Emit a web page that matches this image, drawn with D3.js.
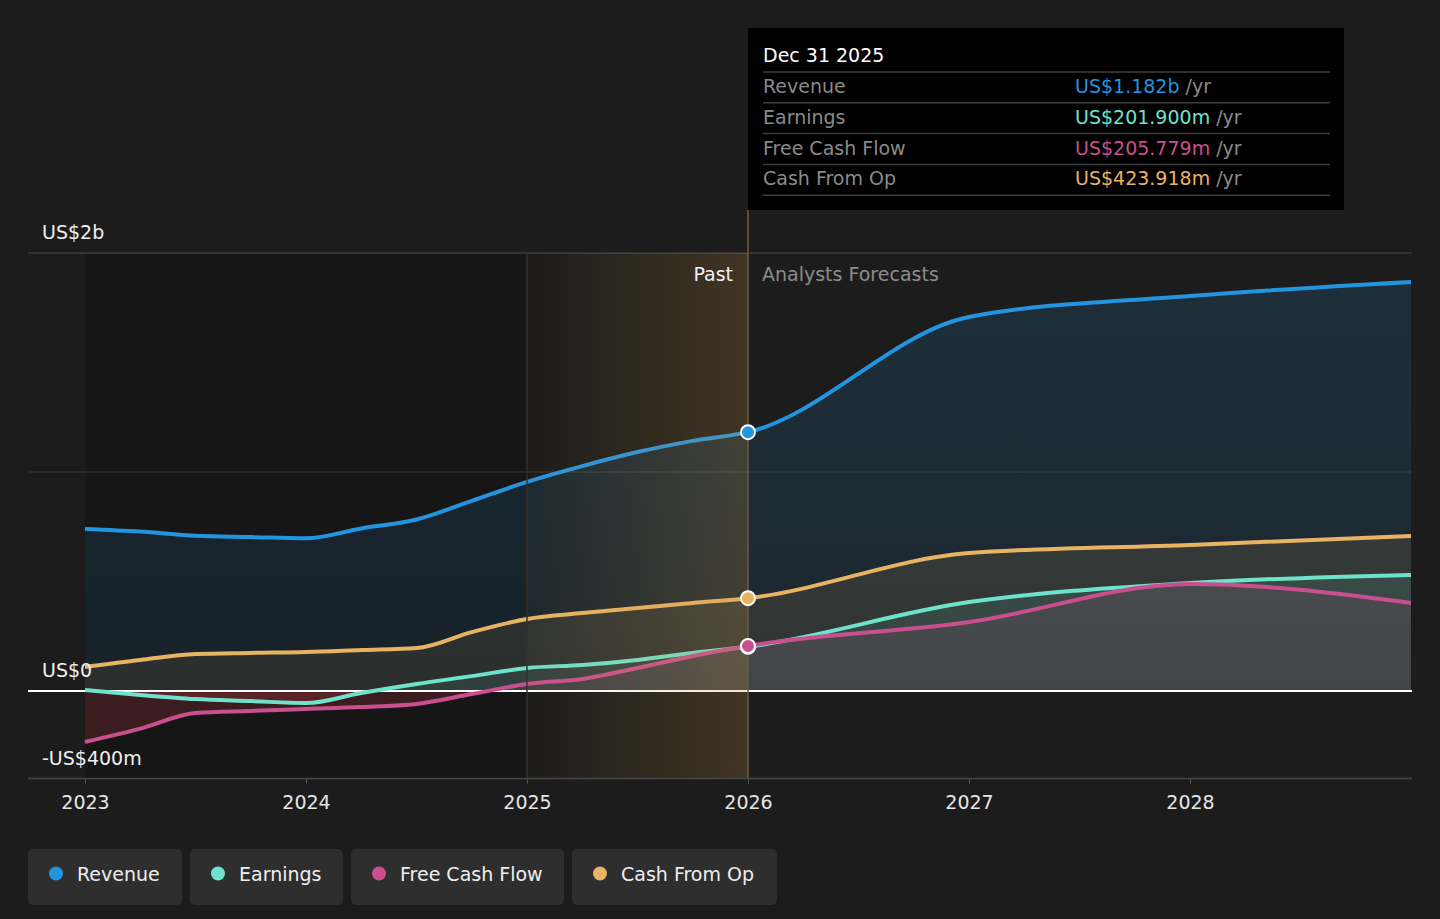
<!DOCTYPE html>
<html>
<head>
<meta charset="utf-8">
<script src="https://cdn.jsdelivr.net/npm/d3@7"></script>
<style>
  html, body { margin: 0; padding: 0; background: #1c1c1c; }
  svg { display: block; font-family: "DejaVu Sans", sans-serif; }
</style>
</head>
<body>
<svg width="1440" height="919"></svg>
<script>
// dates as fractional years: quarterly history, then yearly analyst forecasts
const dates = [2023, 2023.25, 2023.5, 2023.75, 2024, 2024.25, 2024.5, 2024.75,
  2025, 2025.25, 2025.5, 2025.75, 2026, 2027, 2028, 2029];

// values in US$ billions
const revenue = [0.740, 0.728, 0.709, 0.703, 0.697, 0.742, 0.783, 0.868,
  0.955, 1.027, 1.091, 1.142, 1.182, 1.708, 1.804, 1.868];
const earnings = [0.005, -0.018, -0.037, -0.046, -0.055, -0.009, 0.032, 0.068,
  0.105, 0.119, 0.142, 0.174, 0.2019, 0.406, 0.493, 0.530];
const freeCashFlow = [-0.233, -0.172, -0.100, -0.091, -0.082, -0.073, -0.059, -0.014,
  0.032, 0.055, 0.105, 0.160, 0.2058, 0.315, 0.489, 0.402];
const cashFromOp = [0.110, 0.142, 0.169, 0.174, 0.178, 0.187, 0.196, 0.269,
  0.329, 0.356, 0.379, 0.402, 0.4239, 0.630, 0.667, 0.708];

const yearTicks = [2023, 2024, 2025, 2026, 2027, 2028];
const yTicks = [-0.4, 0, 2];
const yTickLabels = ['-US$400m', 'US$0', 'US$2b'];
const gridValues = [2, 1];

const pastStart = 2023, bandStart = 2025, today = 2026;
const tooltipTitle = 'Dec 31 2025';

const series = [
  { name: 'Revenue', values: revenue, color: '#2394df', label: 'US$1.182b' },
  { name: 'Earnings', values: earnings, color: '#6fe2cb', label: 'US$201.900m' },
  { name: 'Free Cash Flow', values: freeCashFlow, color: '#c94f8f', label: 'US$205.779m' },
  { name: 'Cash From Op', values: cashFromOp, color: '#e8b362', label: 'US$423.918m' },
];
// draw order (bottom to top)
const drawOrder = [0, 3, 1, 2];

const svg = d3.select('svg');
const W = 1440;
const left = 28, right = 1412;

const x = d3.scaleLinear().domain([2023, 2029]).range([85, 1411]);
const y = d3.scaleLinear().domain([-0.4, 2]).range([778.6, 253]);

const defs = svg.append('defs');

svg.append('rect').attr('width', W).attr('height', 919).attr('fill', '#1c1c1c');

// past region darker
svg.append('rect')
  .attr('x', x(pastStart)).attr('y', y(2))
  .attr('width', x(bandStart) - x(pastStart)).attr('height', y(-0.4) - y(2))
  .attr('fill', '#161616');
svg.append('rect')
  .attr('x', x(bandStart)).attr('y', y(2))
  .attr('width', x(today) - x(bandStart)).attr('height', y(-0.4) - y(2))
  .attr('fill', '#181818');

// grid
svg.append('g').selectAll('line')
  .data(gridValues)
  .join('line')
  .attr('x1', left).attr('x2', right)
  .attr('y1', d => y(d)).attr('y2', d => y(d))
  .attr('stroke', d => d === 2 ? '#4c4c4c' : '#363636')
  .attr('stroke-width', 1.2);

// area gradients
series.forEach((s, i) => {
  const g = defs.append('linearGradient')
    .attr('id', 'grad' + i)
    .attr('gradientUnits', 'userSpaceOnUse')
    .attr('x1', 0).attr('x2', 0).attr('y1', y(2)).attr('y2', y(0));
  g.append('stop').attr('offset', 0).attr('stop-color', s.color).attr('stop-opacity', 0.16);
  g.append('stop').attr('offset', 1).attr('stop-color', s.color).attr('stop-opacity', 0.09);
});
defs.append('clipPath').attr('id', 'clipAbove')
  .append('rect').attr('x', 0).attr('y', 0).attr('width', W).attr('height', y(0));
defs.append('clipPath').attr('id', 'clipBelow')
  .append('rect').attr('x', 0).attr('y', y(0)).attr('width', W).attr('height', 919 - y(0));

const area = d3.area()
  .curve(d3.curveMonotoneX)
  .x((d, i) => x(dates[i]))
  .y0(y(0))
  .y1(d => y(d));

const line = d3.line()
  .curve(d3.curveMonotoneX)
  .x((d, i) => x(dates[i]))
  .y(d => y(d));

const areas = svg.append('g');
drawOrder.forEach(i => {
  const s = series[i];
  areas.append('path')
    .attr('d', area(s.values))
    .attr('fill', `url(#grad${i})`)
    .attr('clip-path', 'url(#clipAbove)');
  areas.append('path')
    .attr('d', area(s.values))
    .attr('fill', '#d23c4a')
    .attr('fill-opacity', 0.2)
    .attr('clip-path', 'url(#clipBelow)');
});

// zero line
svg.append('line')
  .attr('x1', left).attr('x2', right)
  .attr('y1', y(0)).attr('y2', y(0))
  .attr('stroke', '#ffffff').attr('stroke-width', 2);

const lines = svg.append('g');
drawOrder.forEach(i => {
  lines.append('path')
    .attr('d', line(series[i].values))
    .attr('fill', 'none')
    .attr('stroke', series[i].color)
    .attr('stroke-width', 4);
});

// highlight band for the last year of history
const bandGrad = defs.append('linearGradient').attr('id', 'band');
bandGrad.append('stop').attr('offset', 0).attr('stop-color', '#c8964b').attr('stop-opacity', 0.03);
bandGrad.append('stop').attr('offset', 1).attr('stop-color', '#c8964b').attr('stop-opacity', 0.23);
svg.append('rect')
  .attr('x', x(bandStart)).attr('y', y(2))
  .attr('width', x(today) - x(bandStart)).attr('height', y(-0.4) - y(2))
  .attr('fill', 'url(#band)');
svg.append('line')
  .attr('x1', x(bandStart)).attr('x2', x(bandStart))
  .attr('y1', y(2)).attr('y2', y(-0.4))
  .attr('stroke', '#34312c').attr('stroke-width', 1.5);
svg.append('line')
  .attr('x1', x(today)).attr('x2', x(today))
  .attr('y1', 210).attr('y2', y(-0.4))
  .attr('stroke', '#6e5b3c').attr('stroke-width', 1.5);

// bottom axis
const xAxis = svg.append('g').attr('transform', `translate(0,${y(-0.4)})`)
  .call(d3.axisBottom(x).tickValues(yearTicks).tickFormat(d3.format('d')).tickSize(5).tickPadding(12));
xAxis.select('.domain').remove();
svg.append('line')
  .attr('x1', left).attr('x2', right)
  .attr('y1', y(-0.4)).attr('y2', y(-0.4))
  .attr('stroke', '#474747').attr('stroke-width', 1.5);
xAxis.selectAll('.tick line').attr('stroke', '#555');
xAxis.selectAll('.tick text')
  .attr('fill', '#e6e6e6')
  .attr('font-size', 19)
  .attr('font-family', '"DejaVu Sans", sans-serif');

// y labels
svg.append('g').selectAll('text')
  .data(yTicks)
  .join('text')
  .attr('x', 42)
  .attr('y', d => y(d) - 14)
  .attr('fill', '#f0f0f0')
  .attr('font-size', 19)
  .text((d, i) => yTickLabels[i]);

// dots at today
const dots = svg.append('g');
[1, 0, 3, 2].forEach(i => {
  dots.append('circle')
    .attr('cx', x(today))
    .attr('cy', y(series[i].values[dates.indexOf(today)]))
    .attr('r', 7)
    .attr('fill', series[i].color)
    .attr('stroke', '#ffffff')
    .attr('stroke-width', 2);
});

svg.append('text')
  .attr('x', x(today) - 15).attr('y', 281)
  .attr('text-anchor', 'end')
  .attr('fill', '#f0f0f0').attr('font-size', 19)
  .text('Past');
svg.append('text')
  .attr('x', x(today) + 14).attr('y', 281)
  .attr('fill', '#8c8c8c').attr('font-size', 19)
  .text('Analysts Forecasts');

// tooltip
const tip = svg.append('g');
tip.append('rect')
  .attr('x', 748).attr('y', 28).attr('width', 596).attr('height', 182)
  .attr('fill', '#000');
tip.append('text')
  .attr('x', 763).attr('y', 62)
  .attr('fill', '#ffffff').attr('font-size', 19)
  .text(tooltipTitle);
const rowY = d3.scaleLinear().domain([0, 1]).range([72, 102.8]);
tip.selectAll('line.sep')
  .data(d3.range(series.length + 1))
  .join('line')
  .attr('class', 'sep')
  .attr('x1', 763).attr('x2', 1330)
  .attr('y1', d => rowY(d)).attr('y2', d => rowY(d))
  .attr('stroke', '#3e3e3e').attr('stroke-width', 1.5);
const rows = tip.selectAll('g.row')
  .data(series)
  .join('g')
  .attr('class', 'row')
  .attr('transform', (d, i) => `translate(0,${rowY(i) + 21})`);
rows.append('text')
  .attr('x', 763)
  .attr('fill', '#8a8a8a').attr('font-size', 19)
  .text(d => d.name);
const val = rows.append('text')
  .attr('x', 1075)
  .attr('font-size', 19);
val.append('tspan').attr('fill', d => d.color).text(d => d.label);
val.append('tspan').attr('fill', '#8a8a8a').text(' /yr');

// legend
const legendX = [28, 190, 351, 572];
const legendW = [154, 153, 213, 205];
const legend = svg.append('g').selectAll('g')
  .data(series)
  .join('g')
  .attr('transform', (d, i) => `translate(${legendX[i]},849)`);
legend.append('rect')
  .attr('width', (d, i) => legendW[i]).attr('height', 56)
  .attr('rx', 5)
  .attr('fill', '#2e2e2e');
legend.append('circle')
  .attr('cx', 28).attr('cy', 24.5).attr('r', 7)
  .attr('fill', d => d.color);
legend.append('text')
  .attr('x', 49).attr('y', 31.5)
  .attr('fill', '#eeeeee').attr('font-size', 19)
  .text(d => d.name);
</script>
</body>
</html>
